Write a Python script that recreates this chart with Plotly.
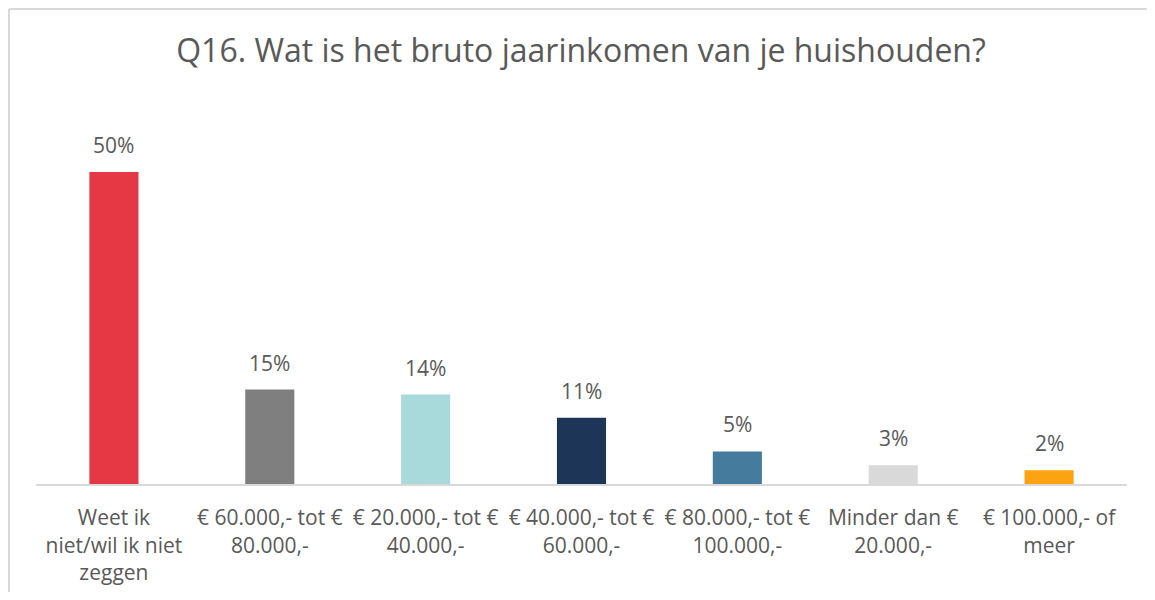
import plotly.graph_objects as go

categories = [
    "Weet ik<br>niet/wil ik niet<br>zeggen",
    "€ 60.000,- tot €<br>80.000,-",
    "€ 20.000,- tot €<br>40.000,-",
    "€ 40.000,- tot €<br>60.000,-",
    "€ 80.000,- tot €<br>100.000,-",
    "Minder dan €<br>20.000,-",
    "€ 100.000,- of<br>meer",
]
values = [49.9, 15.1, 14.3, 10.6, 5.2, 3.0, 2.2]
colors = ["#E63745", "#7F7F7F", "#A8DADC", "#1D3557", "#457B9D", "#D9D9D9", "#FCA311"]
title_text = "Q16. Wat is het bruto jaarinkomen van je huishouden?"

# page has an 8px body margin on every side; keep figure inside the window
W, H = 1139, 584
L, R, T, B = 28, 20, 132, 108
plot_w = W - L - R
plot_h = H - T - B
ymax = 55
txt = "#595959"
gray = "#D9D9D9"

fig = go.Figure()
fig.add_trace(go.Bar(
    x=categories, y=values,
    marker=dict(color=colors, line=dict(width=0)),
    width=0.315,
    hoverinfo="skip",
))

for c, v in zip(categories, values):
    fig.add_annotation(
        x=c, y=v, text=f"{v:.0f}%", showarrow=False,
        yanchor="bottom", yshift=11,
        font=dict(family="Open Sans", size=21, color=txt),
    )

# chart frame (top and left edges)
x_left = (1 - L) / plot_w
y_top = (H - B - 1) / plot_h
y_bot = (H - B - H) / plot_h
fig.add_shape(type="line", xref="paper", yref="paper", x0=x_left, x1=(W - L) / plot_w,
              y0=y_top, y1=y_top, line=dict(color=gray, width=2))
fig.add_shape(type="line", xref="paper", yref="paper", x0=x_left, x1=x_left,
              y0=y_bot, y1=y_top, line=dict(color=gray, width=2))

fig.update_layout(
    width=W, height=H,
    margin=dict(l=L, r=R, t=T, b=B, autoexpand=False),
    paper_bgcolor="white", plot_bgcolor="white",
    showlegend=False,
    title=dict(text=title_text, x=573 / W, xanchor="center", y=1 - 43 / H, yanchor="middle",
               font=dict(family="Open Sans", size=32, color=txt)),
    font=dict(family="Open Sans", color=txt),
)
fig.update_xaxes(
    showline=True, linecolor=gray, linewidth=2, automargin=False,
    showgrid=False, ticks="outside", ticklen=14, tickcolor="rgba(0,0,0,0)",
    tickfont=dict(family="Open Sans", size=21, color=txt),
    fixedrange=True,
)
fig.update_yaxes(range=[0, ymax], visible=False, showgrid=False, fixedrange=True)

fig.write_html("out.html", config={"displayModeBar": False})
